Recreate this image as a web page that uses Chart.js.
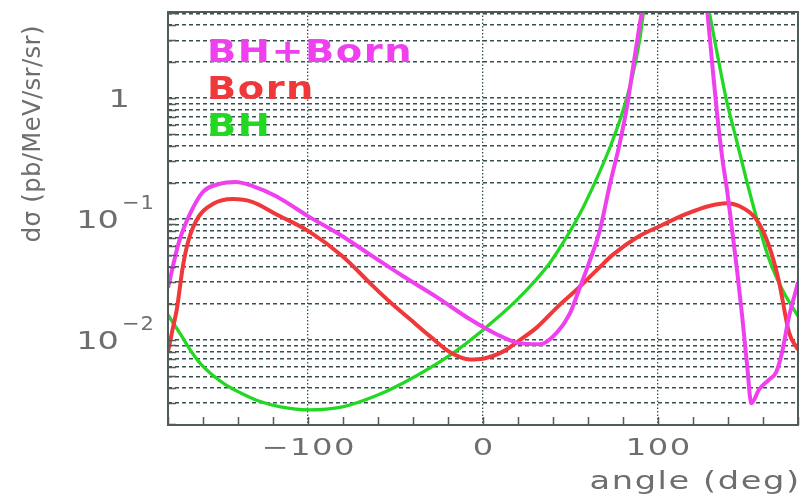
<!DOCTYPE html>
<html>
<head>
<meta charset="utf-8">
<script src="https://cdn.jsdelivr.net/npm/chart.js@4/dist/chart.umd.min.js"></script>
<style>
  html, body { margin: 0; padding: 0; background: #ffffff; }
  canvas { display: block; }
</style>
</head>
<body>
<canvas id="chart" width="802" height="499"></canvas>
<script>
// Scattering angle (deg) and cross section dσ (pb/MeV/sr/sr) for each process.
const bhAngle = [-180, -172.6, -166.9, -161.2, -154.4, -147.0, -138.5, -128.2, -115.7, -99.7, -80.3, -61.5, -45.6, -18.8, 0, 19.4, 38.2,
                 46.7, 55.3, 63.8, 72.4, 79.2, 84.9, 89.5, 91.7, 94,
                 110,
                 126.5, 129.3, 133.3, 139.0, 144.7, 150.4, 156.1, 163.5, 170.9, 180];
const bhValue = [0.0161, 0.0110, 0.0081, 0.0063, 0.0051, 0.00425, 0.00365, 0.00313, 0.0028, 0.00264, 0.0028, 0.00344, 0.00441, 0.0075, 0.0121, 0.0214, 0.0433,
                 0.067, 0.110, 0.198, 0.386, 0.724, 1.41, 3.01, 5.14, 9,
                 null,
                 8.5, 5.17, 2.55, 0.98, 0.458, 0.214, 0.105, 0.0464, 0.0262, 0.0157];

const bornAngle = [-180, -177.5, -175, -171.5, -168.1, -162.4, -154.4, -143.0, -131.6, -118.5, -99.7, -80.3, -63, -53.0, -41.6, -30.2, -18.8, -7.4, 0,
                   11.4, 19.4, 30.8, 42.2, 55.3, 66.7, 74.1, 87.7, 100.9, 116.2, 129.3, 139.0, 146.4, 156.1, 163.5, 169.2, 174.9, 180];
const bornValue = [0.0080, 0.012, 0.0178, 0.0406, 0.068, 0.105, 0.133, 0.146, 0.138, 0.110, 0.0793, 0.0492, 0.028, 0.0205, 0.0148, 0.0107, 0.0079, 0.0069, 0.0070,
                   0.0080, 0.0096, 0.0127, 0.0185, 0.0275, 0.040, 0.0505, 0.070, 0.0871, 0.110, 0.128, 0.135, 0.128, 0.0996, 0.0595, 0.030, 0.0115, 0.0083];

const sumAngle = [-180, -173.8, -168.1, -160.1, -151.0, -141.3, -131.6, -118.5, -99.7, -80.3, -63, -45.6, -26.2, -7.4, 8.0, 19.4, 32.5, 42.2, 49.6, 55.3,
                  61.0, 66.7, 72.4, 78.1, 82.1, 85.5, 89.5, 92.3,
                  110,
                  127, 128.2, 131.1, 133.9, 136.8, 139.6, 142.5, 145.3, 148.1, 151.0, 153.3, 157.8, 163.5, 167.5, 170.9, 174.9, 178.9, 180];
const sumValue = [0.027, 0.064, 0.105, 0.167, 0.194, 0.202, 0.187, 0.155, 0.105, 0.072, 0.049, 0.0336, 0.0225, 0.0148, 0.0111, 0.0095, 0.0092, 0.0115, 0.0165, 0.027,
                  0.045, 0.08, 0.19, 0.42, 0.82, 1.7, 4.0, 7.0,
                  null,
                  7.5, 5.17, 1.84, 0.71, 0.313, 0.167, 0.0778, 0.0362, 0.0157, 0.006, 0.0030, 0.0039, 0.0047, 0.0054, 0.0079, 0.0157, 0.026, 0.030];

const seriesLabels = ['BH+Born', 'Born', 'BH'];
const seriesColors = ['#ee40ee', '#f0383a', '#22d822'];

// Axes
const xMin = -180, xMax = 180;
const xMinorTicks = [-180, -160, -140, -120, -100, -80, -60, -40, -20, 0, 20, 40, 60, 80, 100, 120, 140, 160, 180];
const xLabelValues = [-100, 0, 100];
const xLabelTexts = ['\u2212100', '0', '100'];
const xTitle = 'angle (deg)';

const yMin = 0.00198, yMax = 5.14;
const yLabelValues = [1, 0.1, 0.01];
const yLabelBases = ['1', '10', '10'];
const yLabelExponents = ['', '\u22121', '\u22122'];
const yTitle = 'd\u03c3 (pb/MeV/sr/sr)';

// gridlines at 1..9 of every decade inside the range
const yGridValues = [];
for (const decade of [0.001, 0.01, 0.1, 1]) {
  for (let m = 1; m <= 9; m++) {
    const v = +(m * decade).toPrecision(3);
    if (v >= yMin && v <= yMax) yGridValues.push(v);
  }
}

const gridColor = '#36504f';
const frameColor = '#4f5c5a';
const textColor = '#6e6e6e';

const toPoints = (xs, ys) => xs.map((x, i) => ({ x: x, y: ys[i] }));

// draws a string glyph by glyph with horizontal stretch and extra tracking
function drawText(ctx, text, x, y, o) {
  ctx.save();
  ctx.font = (o.weight || 'normal') + ' ' + o.size + 'px "DejaVu Sans", sans-serif';
  ctx.fillStyle = o.color;
  ctx.textBaseline = 'alphabetic';
  ctx.textAlign = 'left';
  const sx = o.sx || 1, sp = o.spacing || 0;
  const chars = [...text];
  const widths = chars.map(ch => ctx.measureText(ch).width * sx);
  const total = widths.reduce((a, b) => a + b, 0) + sp * (chars.length - 1);
  ctx.translate(x, y);
  if (o.rotate) ctx.rotate(o.rotate);
  let cx = o.align === 'center' ? -total / 2 : (o.align === 'right' ? -total : 0);
  chars.forEach((ch, i) => {
    ctx.save();
    ctx.translate(cx, 0);
    ctx.scale(sx, 1);
    ctx.fillText(ch, 0, 0);
    ctx.restore();
    cx += widths[i] + sp;
  });
  ctx.restore();
}

const decorations = {
  id: 'decorations',
  afterDatasetsDraw(chart) {
    const { ctx, chartArea: a, scales } = chart;
    const x = scales.x, y = scales.y;
    ctx.save();

    // tick marks pointing into the plot
    ctx.strokeStyle = frameColor;
    ctx.lineWidth = 1.5;
    ctx.beginPath();
    xMinorTicks.forEach(v => {
      const px = Math.round(x.getPixelForValue(v)) + 0.5;
      ctx.moveTo(px, a.bottom);
      ctx.lineTo(px, a.bottom - 8);
    });
    yGridValues.forEach(v => {
      const py = Math.round(y.getPixelForValue(v)) + 0.5;
      ctx.moveTo(a.left, py);
      ctx.lineTo(a.left + 8, py);
    });
    ctx.stroke();

    // frame
    ctx.lineWidth = 2;
    ctx.strokeRect(a.left, a.top, a.right - a.left, a.bottom - a.top);
    ctx.restore();

    // x tick labels
    xLabelValues.forEach((v, i) => {
      drawText(ctx, xLabelTexts[i], x.getPixelForValue(v), 455, { size: 23, sx: 1.4, spacing: 1.5, color: textColor, align: 'center' });
    });
    drawText(ctx, xTitle, 799, 489, { size: 24, sx: 1.4, spacing: 1.6, color: textColor, align: 'right' });

    // y tick labels with exponents
    yLabelValues.forEach((v, i) => {
      const py = y.getPixelForValue(v);
      if (yLabelExponents[i]) {
        drawText(ctx, yLabelBases[i], 119, py + 8.7, { size: 24, sx: 1.4, spacing: 0, color: textColor, align: 'right' });
        drawText(ctx, yLabelExponents[i], 122, py - 17 + 7.3, { size: 20, sx: 1.05, spacing: 1, color: textColor, align: 'left' });
      } else {
        drawText(ctx, yLabelBases[i], 130, py + 8.7, { size: 24, sx: 1.4, spacing: 0, color: textColor, align: 'right' });
      }
    });
    drawText(ctx, yTitle, 40, 134, { size: 25, sx: 0.97, spacing: 0.4, color: textColor, align: 'center', rotate: -Math.PI / 2 });

    // legend: coloured names stacked inside the plot
    chart.data.datasets.forEach((ds, i) => {
      drawText(ctx, ds.label, 207, 62 + i * 37, { size: 32, weight: 'bold', sx: 1.2, spacing: 1.5, color: ds.borderColor, align: 'left' });
    });
  }
};

const lineStyle = {
  pointRadius: 0,
  pointHoverRadius: 0,
  cubicInterpolationMode: 'monotone',
  spanGaps: false,
  clip: 0,
  fill: false
};

new Chart(document.getElementById('chart'), {
  type: 'line',
  data: {
    datasets: [
      Object.assign({ label: seriesLabels[0], data: toPoints(sumAngle, sumValue), borderColor: seriesColors[0], borderWidth: 4 }, lineStyle),
      Object.assign({ label: seriesLabels[1], data: toPoints(bornAngle, bornValue), borderColor: seriesColors[1], borderWidth: 4 }, lineStyle),
      Object.assign({ label: seriesLabels[2], data: toPoints(bhAngle, bhValue), borderColor: seriesColors[2], borderWidth: 3.3 }, lineStyle)
    ]
  },
  options: {
    responsive: false,
    animation: false,
    devicePixelRatio: 1,
    events: [],
    layout: { padding: { top: 12, right: 4, bottom: 0, left: 0 } },
    plugins: { legend: { display: false }, tooltip: { enabled: false }, title: { display: false } },
    scales: {
      x: {
        type: 'linear',
        min: xMin,
        max: xMax,
        afterBuildTicks: s => { s.ticks = xMinorTicks.map(v => ({ value: v })); },
        afterFit: s => { s.height = 74; },
        ticks: { display: false },
        grid: {
          drawTicks: false,
          lineWidth: 1.3,
          color: c => (c.tick && xLabelValues.includes(c.tick.value)) ? gridColor : 'rgba(0,0,0,0)'
        },
        border: { display: false, dash: [1.5, 2] }
      },
      y: {
        type: 'logarithmic',
        min: yMin,
        max: yMax,
        afterBuildTicks: s => { s.ticks = yGridValues.map(v => ({ value: v })); },
        afterFit: s => { s.width = 168; },
        ticks: { display: false },
        grid: { drawTicks: false, lineWidth: 1.5, color: gridColor },
        border: { display: false, dash: [4, 3] }
      }
    }
  },
  plugins: [decorations]
});
</script>
</body>
</html>
